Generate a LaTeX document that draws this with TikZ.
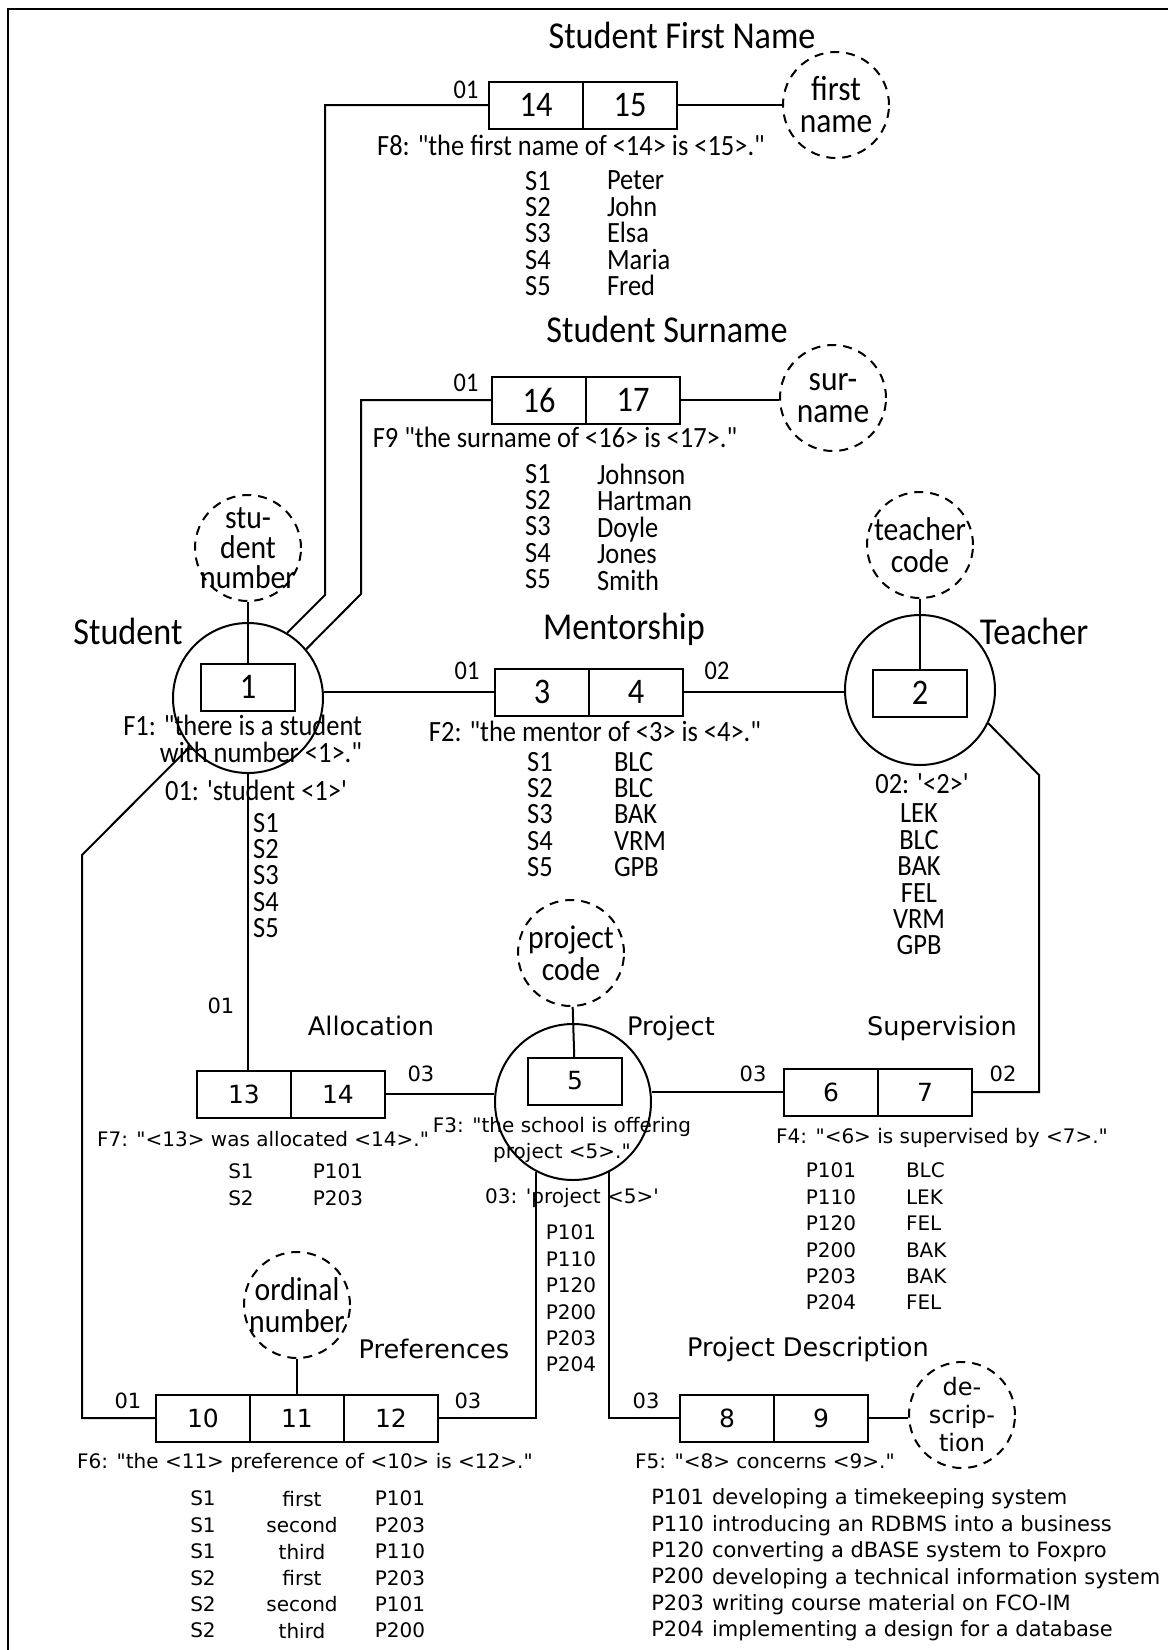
\documentclass[tikz,border=0pt]{standalone}
\usepackage{fontspec}
\newfontfamily\nf[FakeStretch=0.9, Ligatures=TeXOff]{Carlito}
\newfontfamily\wf[Ligatures=TeXOff]{DejaVu Sans}
\usetikzlibrary{positioning}
\tikzset{
    cell/.style={rectangle, draw, minimum width=47pt, minimum height=23.5pt, inner sep=0pt, outer sep=0pt},
    ncell/.style={cell, font=\nf\fontsize{18}{18}\selectfont},
    wcell/.style={cell, font=\wf\fontsize{12.5}{12.5}\selectfont},
    entity/.style={circle, draw, minimum size=75pt, inner sep=0pt},
    valcirc/.style={circle, draw, dash pattern=on 4.5pt off 3.5pt, minimum size=53pt, inner sep=-15pt, align=center, font=\nf\fontsize{17.5}{16}\selectfont},
    ntitle/.style={font=\nf\fontsize{19}{19}\selectfont, inner sep=0pt},
    wtitle/.style={font=\wf\fontsize{12.8}{12.8}\selectfont, inner sep=0pt},
    ntext/.style={font=\nf\fontsize{14.7}{13.2}\selectfont, inner sep=0pt},
    wtext/.style={font=\wf\fontsize{10}{13.2}\selectfont, inner sep=0pt},
    nrole/.style={font=\nf\fontsize{13.5}{13.5}\selectfont, inner sep=0pt},
    wrole/.style={font=\wf\fontsize{10.5}{10.5}\selectfont, inner sep=0pt},
}
\begin{document}
\begin{tikzpicture}[x=0.5pt, y=-0.5pt, line width=1pt]
    \useasboundingbox (0,0) rectangle (1168,1650);
    \draw[line width=1.4pt] (8,1650) -- (8,9) -- (1168,9);

    % student first name
    \node[ntitle] (tfn) at (682,35) {Student First Name};
    \node[ncell] (c14) at (536,105) {14};
    \node[ncell, right=0pt of c14] (c15) {15};
    \node[valcirc] (fname) at (836,105) {first\\name};
    \node[nrole] (r14) at (466,90) {01};
    \node[ntext] (f8) at (571,145) {F8: "the first name of <14> is <15>."};
    \node[ntext, anchor=north, align=center] (fnS) at (538,170) {S1\\S2\\S3\\S4\\S5};
    \node[ntext, anchor=north west, align=left] (fnV) at (606,170) {Peter\\John\\Elsa\\Maria\\Fred};

    % student surname
    \node[ntitle] (tsn) at (667,329) {Student Surname};
    \node[ncell] (c16) at (539,400) {16};
    \node[ncell, right=0pt of c16] (c17) {17};
    \node[valcirc] (sname) at (833,398) {sur-\\name};
    \node[nrole] (r16) at (466,383) {01};
    \node[ntext] (f9) at (555,437) {F9 "the surname of <16> is <17>."};
    \node[ntext, anchor=north, align=center] (snS) at (538,463) {S1\\S2\\S3\\S4\\S5};
    \node[ntext, anchor=north west, align=left] (snV) at (596,463) {Johnson\\Hartman\\Doyle\\Jones\\Smith};

    % student
    \node[valcirc, font=\nf\fontsize{16.5}{15}\selectfont] (snum) at (248,548) {stu-\\dent\\number};
    \node[ntitle] (tst) at (128,631) {Student};
    \node[entity] (student) at (248,698) {};
    \node[ncell] (c1) at (248,687) {1};
    \node[ntext, anchor=east, align=right] (f1) at (363,739) {F1: "there is a student\\with number <1>."};
    \node[ntext] (o1) at (256,790) {01: 'student <1>'};
    \node[ntext, anchor=north, align=center] (stS) at (266,812) {S1\\S2\\S3\\S4\\S5};

    % mentorship
    \node[ntitle] (tmt) at (624,629) {Mentorship};
    \node[ncell] (c3) at (542,692) {3};
    \node[ncell, right=0pt of c3] (c4) {4};
    \node[nrole] (r3) at (467,671) {01};
    \node[nrole] (r4) at (717,671) {02};
    \node[ntext] (f2) at (595,731) {F2: "the mentor of <3> is <4>."};
    \node[ntext, anchor=north, align=center] (mtS) at (540,751) {S1\\S2\\S3\\S4\\S5};
    \node[ntext, anchor=north west, align=left] (mtV) at (613,751) {BLC\\BLC\\BAK\\VRM\\GPB};

    % teacher
    \node[valcirc, font=\nf\fontsize{16.5}{16}\selectfont] (tcode) at (920,545) {teacher\\code};
    \node[ntitle] (tte) at (1034,631) {Teacher};
    \node[entity] (teacher) at (920,690) {};
    \node[ncell] (c2) at (920,693) {2};
    \node[ntext] (o2) at (922,784) {02: '<2>'};
    \node[ntext, anchor=north, align=center] (tcV) at (919,803) {LEK\\BLC\\BAK\\FEL\\VRM\\GPB};

    % project
    \node[valcirc, font=\nf\fontsize{16.5}{16}\selectfont] (pcode) at (571,953) {project\\code};
    \node[wtitle] (tpr) at (671,1028) {Project};
    \node[entity, minimum size=78pt] (project) at (573,1102) {};
    \node[wcell] (c5) at (575,1081) {5};
    \node[wtext, align=center] (f3) at (562,1140) {F3: "the school is offering\\project <5>."};
    \node[wtext] (o3) at (572,1198) {03: 'project <5>'};
    \node[wtext, anchor=north, align=center] (prV) at (571,1224) {P101\\P110\\P120\\P200\\P203\\P204};

    % allocation
    \node[wtitle] (tal) at (371,1026) {Allocation};
    \node[wcell] (c13) at (244,1094) {13};
    \node[wcell, right=0pt of c13] (c14b) {14};
    \node[wrole] (r13) at (221,1006) {01};
    \node[wrole] (r14b) at (421,1074) {03};
    \node[wtext] (f7) at (263,1139) {F7: "<13> was allocated <14>."};
    \node[wtext, anchor=north, align=center] (alS) at (241,1163) {S1\\S2};
    \node[wtext, anchor=north, align=center] (alP) at (338,1163) {P101\\P203};

    % supervision
    \node[wtitle] (tsu) at (942,1028) {Supervision};
    \node[wcell] (c6) at (831,1092) {6};
    \node[wcell, right=0pt of c6] (c7) {7};
    \node[wrole] (r6) at (753,1074) {03};
    \node[wrole] (r7) at (1003,1074) {02};
    \node[wtext] (f4) at (942,1138) {F4: "<6> is supervised by <7>."};
    \node[wtext, anchor=north, align=center] (spP) at (831,1162) {P101\\P110\\P120\\P200\\P203\\P204};
    \node[wtext, anchor=north west, align=left] (spV) at (905,1162) {BLC\\LEK\\FEL\\BAK\\BAK\\FEL};

    % preferences
    \node[valcirc, font=\nf\fontsize{16.5}{16}\selectfont] (ordnum) at (297,1305) {ordinal\\number};
    \node[wtitle] (tpf) at (434,1349) {Preferences};
    \node[wcell] (c10) at (203,1418) {10};
    \node[wcell, right=0pt of c10] (c11) {11};
    \node[wcell, right=0pt of c11] (c12) {12};
    \node[wrole] (r10) at (128,1401) {01};
    \node[wrole] (r12) at (468,1401) {03};
    \node[wtext] (f6) at (305,1463) {F6: "the <11> preference of <10> is <12>."};
    \node[wtext, anchor=north, align=center] (pfS) at (203,1490) {S1\\S1\\S1\\S2\\S2\\S2};
    \node[wtext, anchor=north, align=center] (pfO) at (302,1490) {first\\second\\third\\first\\second\\third};
    \node[wtext, anchor=north, align=center] (pfP) at (400,1490) {P101\\P203\\P110\\P203\\P101\\P200};

    % project description
    \node[wtitle] (tpd) at (808,1349) {Project Description};
    \node[wcell] (c8) at (727,1418) {8};
    \node[wcell, right=0pt of c8] (c9) {9};
    \node[valcirc, font=\wf\fontsize{12}{14}\selectfont] (descr) at (962,1415) {de-\\scrip-\\tion};
    \node[wrole] (r8) at (646,1401) {03};
    \node[wtext] (f5) at (765,1461) {F5: "<8> concerns <9>."};
    \node[wtext, font=\wf\fontsize{10.5}{13.2}\selectfont, anchor=north east, align=right] (pdC) at (705,1488) {P101\\P110\\P120\\P200\\P203\\P204};
    \node[wtext, font=\wf\fontsize{10.5}{13.2}\selectfont, anchor=north west, align=left] (pdV) at (711,1488) {developing a timekeeping system\\introducing an RDBMS into a business\\converting a dBASE system to Foxpro\\developing a technical information system\\writing course material on FCO-IM\\implementing a design for a database};

    % connectors
    \coordinate (k1) at (325,595);
    \coordinate (k2) at (361,594);
    \coordinate (k3) at (82,855);
    \coordinate (k4) at (1039,775);
    \draw (c14.west) -| (k1) -- (student.59);
    \draw (c16.west) -| (k2) -- (student.40);
    \draw (c15.east) -- (c15.east -| fname.west);
    \draw (c17.east) -- (c17.east -| sname.west);
    \draw (snum) -- (c1);
    \draw (c3.west) -- (c3.west -| student.east);
    \draw (c4.east) -- (c4.east -| teacher.west);
    \draw (tcode) -- (c2);
    \draw (teacher.334) -- (k4) |- (c7.east);
    \draw (student.south) -- (student.south |- c13.north);
    \draw (student.220) -- (k3) |- (c10.west);
    \draw (pcode) -- (c5);
    \draw (c14b.east) -- (c14b.east -| project.west);
    \draw (c6.west) -- (c6.west -| project.east);
    \draw (c12.east) -| (project.242);
    \draw (c8.west) -| (project.297);
    \draw (c9.east) -- (c9.east -| descr.west);
    \draw (ordnum) -- (c11);
\end{tikzpicture}
\end{document}
